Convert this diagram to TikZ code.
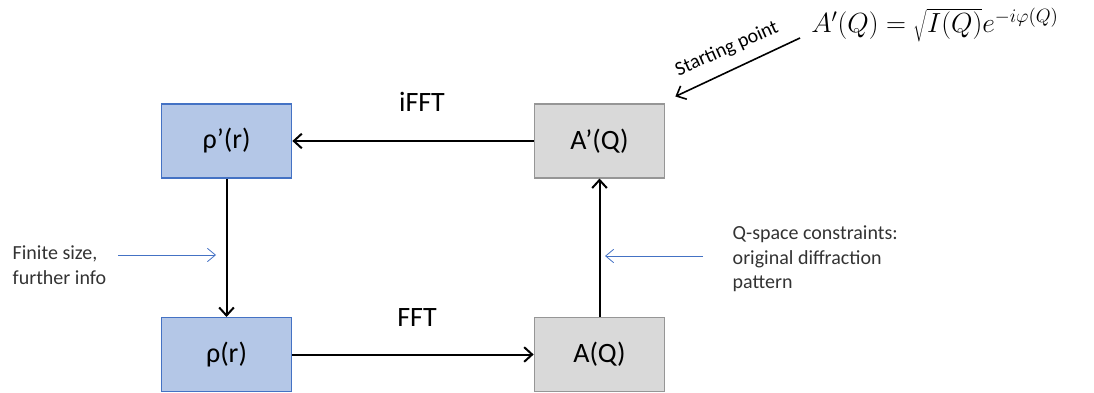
\documentclass[tikz,border=0pt]{standalone}
\usepackage{fontspec}
\setmainfont{Carlito}
\usetikzlibrary{arrows.meta, positioning, calc}
\definecolor{rhoblue}{RGB}{180,199,231}
\definecolor{rhoedge}{RGB}{68,114,196}
\definecolor{ampgray}{RGB}{217,217,217}
\definecolor{ampedge}{RGB}{150,150,150}
\definecolor{hintblue}{RGB}{68,114,196}

\begin{document}
\begin{tikzpicture}[
    x=0.75pt, y=-0.75pt,
    box/.style={draw,minimum width=98pt,minimum height=55.5pt,
                font=\fontsize{21}{25}\selectfont,line width=0.8pt},
    arr/.style={-{Straight Barb[length=6pt,width=11pt]},line width=1.5pt},
    hint/.style={-{Straight Barb[length=6pt,width=10pt]},hintblue,line width=0.6pt},
    lbl/.style={font=\fontsize{15}{18.5}\selectfont,align=left,text=black!80},
]
  \useasboundingbox (0,0) rectangle (1094,392);

  % Boxes
  \node[box,fill=rhoblue,draw=rhoedge] (rhop) at (226.5,141) {ρ’(r)};
  \node[box,fill=rhoblue,draw=rhoedge] (rho) at (226.5,354.5) {ρ(r)};
  \node[box,fill=ampgray,draw=ampedge] (ap) at (599.5,141) {A’(Q)};
  \node[box,fill=ampgray,draw=ampedge] (amp) at (599.5,354.5) {A(Q)};

  % Arrows
  \draw[arr] (ap) -- (rhop);
  \draw[arr] (rhop) -- (rho);
  \draw[arr] (rho) -- (amp);
  \draw[arr] (amp) -- (ap);
  \node[font=\fontsize{21}{25}\selectfont] (ifft) at (422,102) {iFFT};
  \node[font=\fontsize{21}{25}\selectfont] (fft) at (417,318) {FFT};

  % Constraints
  \node[lbl,anchor=west] (finite) at (8,265) {Finite size,\\further info};
  \node[lbl,anchor=west] (qspace) at (728,259) {Q-space constraints:\\original diffraction\\pattern};
  \coordinate (finS) at (118,255);
  \coordinate (finE) at (216,255);
  \coordinate (qS) at (703,256);
  \coordinate (qE) at (605,256);
  \draw[hint] (finS) -- (finE);
  \draw[hint] (qS) -- (qE);

  % Starting point
  \node[anchor=base west,inner sep=0pt,font=\fontsize{20}{24}\selectfont] (formula)
       at (811,33) {$A'(Q)=\sqrt{I(Q)}e^{-i\varphi(Q)}$};
  \coordinate (spS) at (800,38);
  \draw[arr,line width=1.2pt] (spS) -- ([shift={(10,-7)}]ap.north east);
  \node[lbl,rotate=24,text=black] (start) at (727,49) {Starting point};
\end{tikzpicture}
\end{document}
